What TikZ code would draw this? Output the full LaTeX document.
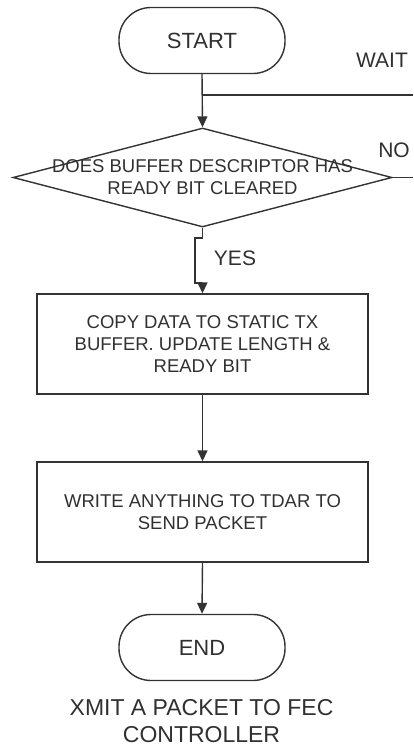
\documentclass[tikz,border=0pt]{standalone}
\usepackage{fontspec}
\setmainfont{Liberation Sans}
\usetikzlibrary{shapes.geometric,arrows.meta}
\definecolor{linec}{HTML}{333333}
\definecolor{textc}{HTML}{303030}
\tikzset{
 conn/.style={draw=linec, line width=1.4pt},
 arr/.style={conn, -{Triangle[length=11pt,width=10pt]}},
 term/.style={draw=linec, line width=1.4pt, rectangle, rounded corners=32pt, minimum width=166pt, minimum height=66pt, inner sep=0pt, text=textc, font=\fontsize{22}{26}\selectfont},
 proc/.style={draw=linec, line width=1.4pt, rectangle, minimum width=331pt, minimum height=100pt, inner sep=0pt, text=textc, align=center, font=\fontsize{18.5}{22}\selectfont},
 decision/.style={draw=linec, line width=1.4pt, diamond, minimum width=379pt, minimum height=99pt, inner sep=0pt},
 lbl/.style={text=textc, inner sep=0pt, font=\fontsize{21}{25}\selectfont},
 dtext/.style={text=textc, align=center, inner sep=0pt, font=\fontsize{18.5}{22}\selectfont},
 captxt/.style={text=textc, align=center, inner sep=0pt, font=\fontsize{23}{27}\selectfont},
}
\begin{document}
\begin{tikzpicture}[x=1pt,y=-1pt]
\useasboundingbox (0,0) rectangle (413,749);
\node[term] (start) at (202,40.5) {START};
\node[decision] (d) at (202.5,177.5) {};
\node[dtext] (dt) at (d.center) {DOES BUFFER DESCRIPTOR HAS\\READY BIT CLEARED};
\node[proc] (b1) at (202.5,344) {COPY DATA TO STATIC TX\\BUFFER. UPDATE LENGTH \&\\READY BIT};
\node[proc] (b2) at (202.5,512) {WRITE ANYTHING TO TDAR TO\\SEND PACKET};
\node[term] (end) at (202,647.5) {END};
\node[captxt] (cap) at (201.5,721.5) {XMIT A PACKET TO FEC\\CONTROLLER};
\node[lbl] (wait) at (382,60) {WAIT};
\node[lbl] (no) at (394,150.5) {NO};
\node[lbl] (yes) at (235,258) {YES};
\coordinate (w) at (413,95);
\coordinate (n) at (413,177.5);
\coordinate (j1) at (195,238);
\coordinate (j2) at (195,283);
\draw[arr] (start.south) -- (d.north);
\draw[conn] (start.south |- w) -- (w);
\draw[conn] (d.east) -- (n);
\draw[arr] (d.south) |- (j1) -- (j2) -| (b1.north);
\draw[arr] (b1.south) -- (b2.north);
\draw[arr] (b2.south) -- (end.north);
\end{tikzpicture}
\end{document}
